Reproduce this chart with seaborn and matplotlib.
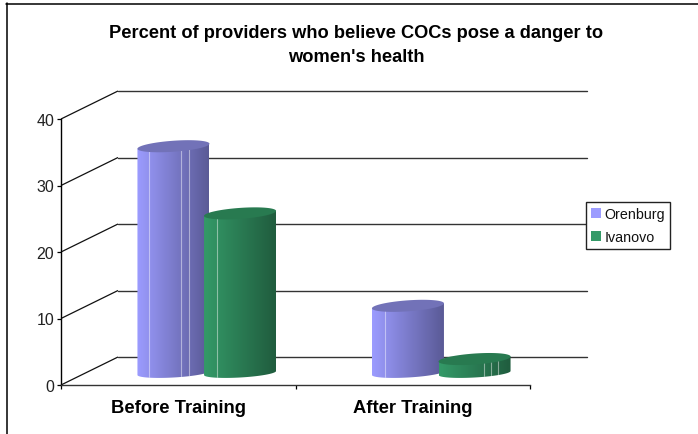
import numpy as np
import pandas as pd
import seaborn as sns
import matplotlib.pyplot as plt
from matplotlib.colors import LinearSegmentedColormap
from matplotlib.lines import Line2D
from matplotlib.patches import Patch, PathPatch
from matplotlib.path import Path

# chart values
groups = ["Before Training", "After Training"]
sites = ["Orenburg", "Ivanovo"]
orenburg = [33.8, 9.8]
ivanovo = [23.7, 1.8]
y_ticks = [0, 10, 20, 30, 40]
title = "Percent of providers who believe COCs pose a danger to\nwomen's health"

# site colours: light side, dark side, top ellipse
colours = {
    "Orenburg": ("#9c9cff", "#5a5a96", "#7272b8"),
    "Ivanovo": ("#349a68", "#205c3e", "#287a50"),
}

df = pd.DataFrame({
    "group": groups * 2,
    "site": [sites[0]] * 2 + [sites[1]] * 2,
    "value": orenburg + ivanovo,
})

sns.set_theme(style="white")
plt.rcParams["font.family"] = ["Liberation Sans", "DejaVu Sans"]

W, H = 698, 435
fig = plt.figure(figsize=(W / 100, H / 100), dpi=100)
# axes box is the front floor/wall of the fake 3D chart
ax = fig.add_axes([61 / W, 1 - 386 / H, 469 / W, 266 / H])

sns.barplot(data=df, x="group", y="value", hue="site", hue_order=sites,
            order=groups, width=0.568, gap=0, palette=[colours[s][0] for s in sites],
            legend=False, ax=ax)
ax.set_xlabel("")
ax.set_ylabel("")

# pixel sizes in data units
px_x = 2 / 469
px_y = 40 / 266
depth_x = 57 * px_x
depth_y = 28 * px_y

# back wall lines and the diagonals
for v in y_ticks:
    ax.plot([-0.5, -0.5 + depth_x], [v, v + depth_y], color="#111111", lw=0.9,
            clip_on=False, zorder=1, solid_capstyle="butt")
    ax.plot([-0.5 + depth_x, (587 - 61) * px_x - 0.5], [v + depth_y, v + depth_y],
            color="#333333", lw=1.0, clip_on=False, zorder=1)

gradient = np.linspace(0, 1, 256).reshape(1, -1)
t = np.linspace(0, np.pi, 60)


def cylinder(patch, site, stripes, order):
    # take position and height from the seaborn bar, then hide the flat bar
    centre = patch.get_x() + patch.get_width() / 2 + depth_x / 2
    height = patch.get_height()
    patch.set_visible(False)
    a = 36 * px_x
    base = depth_y / 2
    light, dark, top = colours[site]
    tilt = 2.5 * px_y
    b_top = 5.5 * px_y
    b_low = 4.5 * px_y
    # lower edge from left to right, then up to the top corners
    low_x = centre - a * np.cos(t)
    low_y = base - 2 * px_y - b_low * np.sin(t) - 2 * px_y * np.cos(t)
    body = np.column_stack([np.r_[low_x, centre + a, centre - a],
                            np.r_[low_y, base + height + tilt, base + height - tilt]])
    clip = PathPatch(Path(np.vstack([body, body[0]]), closed=True), transform=ax.transData,
                     fc="none", ec="none")
    ax.add_patch(clip)
    cmap = LinearSegmentedColormap.from_list(site, [light, dark])
    im = ax.imshow(gradient, extent=(centre - a, centre + a, base - 9 * px_y, base + height + 5 * px_y),
                   cmap=cmap, aspect="auto", zorder=order, clip_on=True)
    im.set_clip_path(clip)
    for s in stripes:
        ln = ax.plot([centre - a + s * px_x] * 2, [base - 9 * px_y, base + height + 5 * px_y],
                     color="white", alpha=0.45, lw=0.8, zorder=order + 0.1)[0]
        ln.set_clip_path(clip)
    # top ellipse
    ang = np.linspace(0, 2 * np.pi, 120)
    ell_x = centre + a * np.cos(ang)
    ell_y = base + height + b_top * np.sin(ang) + tilt * np.cos(ang)
    ax.fill(ell_x, ell_y, color=top, lw=0, zorder=order + 0.2, clip_on=False)


# seaborn stores the bars hue by hue
bars = list(ax.patches)
stripe_sets = [[12, 44, 52], [13], [13], [45, 52, 59]]
bar_sites = [sites[0], sites[0], sites[1], sites[1]]
for i, p in enumerate(bars):
    cylinder(p, bar_sites[i], stripe_sets[i], 3 + i)
ax.set_xlim(-0.5, 1.5)
ax.set_ylim(0, 40)

# axes and ticks
for side in ["top", "right"]:
    ax.spines[side].set_visible(False)
ax.spines["left"].set_color("black")
ax.spines["left"].set_linewidth(1.0)
ax.spines["bottom"].set_color("#333333")
ax.spines["bottom"].set_linewidth(1.0)
ax.set_yticks(y_ticks)
ax.set_xticks([-0.5, 0.5, 1.5])
ax.set_xticklabels([])
ax.tick_params(axis="both", length=3, width=0.9, color="black", left=True, bottom=True, pad=2)
ax.tick_params(axis="y", labelsize=11.5, labelcolor="#222222")
ax.patch.set_alpha(0)

# category labels, centred on the floor segments
for i, g in enumerate(groups):
    ax.text(i, -23 * px_y, g, ha="center", va="center", fontsize=13.2, fontweight="bold",
            color="black", clip_on=False)

fig.text(356.5 / W, 1 - 45.5 / H, title, ha="center", va="center", fontsize=13.15,
         fontweight="bold", color="black", linespacing=1.6)

# legend box drawn by matplotlib
handles = [Patch(fc=colours[s][0], ec="none") for s in sites]
leg = fig.legend(handles, sites, loc="center left", bbox_to_anchor=(586 / W, 1 - 226.5 / H),
                 frameon=True, fontsize=10.3, fancybox=False, edgecolor="#222222", framealpha=1,
                 borderpad=0.33, labelspacing=0.68, handlelength=0.7, handleheight=0.7,
                 handletextpad=0.28, borderaxespad=0)
leg.get_frame().set_linewidth(1.0)
for txt in leg.get_texts():
    txt.set_color("#111111")

# outer chart frame, only left and top show in the crop
fig.add_artist(Line2D([6.5 / W, 6.5 / W], [0, 1 - 4 / H], color="black", lw=1.1))
fig.add_artist(Line2D([6 / W, 1], [1 - 4.5 / H, 1 - 4.5 / H], color="black", lw=1.1))

fig.savefig("out.png", dpi=100, facecolor="white")
